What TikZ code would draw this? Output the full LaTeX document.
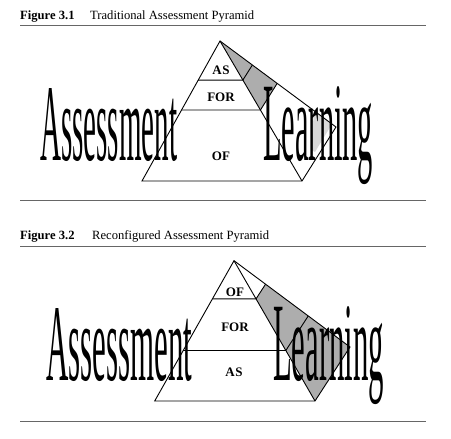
\documentclass[tikz,border=0pt]{standalone}
\usepackage{fontspec}
\setmainfont{Liberation Serif}
\usepackage{graphicx}
\usepackage{tikz}
\usetikzlibrary{calc}
\definecolor{mygray}{rgb}{0.68,0.68,0.68}
\definecolor{mylightgray}{rgb}{0.85,0.85,0.85}
\definecolor{myrule}{rgb}{0.4,0.4,0.4}

\tikzset{
	caption/.style={anchor=base west,inner sep=0,font=\fontsize{12.6}{14}\selectfont},
	level/.style={inner sep=0,font=\fontsize{13}{14}\selectfont\bfseries},
	bigword/.style={anchor=base west,inner sep=0},
	edge/.style={line width=0.9pt,line join=miter},
	rule/.style={myrule,line width=0.8pt}
}

\begin{document}
\begin{tikzpicture}[x=1pt,y=-1pt]
			\useasboundingbox (0,0) rectangle (451,439);

			% Figure 3.1: captions and rules
			\node[caption] (fig1) at (20,19.5) {\textbf{Figure 3.1}};
			\node[caption] (title1) at (90,19.5) {Traditional Assessment Pyramid};
			\coordinate (ruleA) at (20,25.5);
			\coordinate (ruleB) at (426,25.5);
			\coordinate (ruleC) at (20,200);
			\coordinate (ruleD) at (426,200);
			\draw[rule] (ruleA) -- (ruleB);
			\draw[rule] (ruleC) -- (ruleD);

			% Corners of the first pyramid
			\coordinate (top1) at (220,41);
			\coordinate (bl1) at (142,181);
			\coordinate (br1) at (302,181);
			\coordinate (sr1) at (336,127);
			\coordinate (asl1) at ($(top1)!0.279!(bl1)$);
			\coordinate (asr1) at ($(top1)!0.279!(br1)$);
			\coordinate (ass1) at ($(top1)!0.279!(sr1)$);
			\coordinate (forl1) at ($(top1)!0.493!(bl1)$);
			\coordinate (forr1) at ($(top1)!0.493!(br1)$);
			\coordinate (fors1) at ($(top1)!0.493!(sr1)$);

			% Shade the side parts
			\fill[mygray] (top1) -- (forr1) -- (fors1) -- cycle;
			\fill[mylightgray] (314,111) -- (332,124) -- (315,152) -- (311,150) -- cycle;

			% Big words
			\node[bigword] (assess1) at (40,160) {\resizebox{137pt}{72pt}{Assessment}};
			\node[bigword] (learn1) at (263,160) {\resizebox{110pt}{74pt}{Learning}};

			% Draw the pyramid
			\draw[edge] (top1) -- (bl1) -- (br1) -- (sr1) -- cycle;
			\draw[edge] (top1) -- (br1);
			\draw[edge] (asl1) -- (asr1) -- (ass1);
			\draw[edge] (forl1) -- (forr1) -- (fors1);
			\node[level] (as1) at (221,70) {A\kern0.8pt S};
			\node[level] (for1) at (221,97) {FOR};
			\node[level] (of1) at (221,156) {OF};

			% Figure 3.2: captions and rules
			\node[caption] (fig2) at (20,239.5) {\textbf{Figure 3.2}};
			\node[caption] (title2) at (92,239.5) {Reconfigured Assessment Pyramid};
			\coordinate (ruleE) at (20,246.5);
			\coordinate (ruleF) at (426,246.5);
			\coordinate (ruleG) at (20,421.5);
			\coordinate (ruleH) at (426,421.5);
			\draw[rule] (ruleE) -- (ruleF);
			\draw[rule] (ruleG) -- (ruleH);

			% Corners of the second pyramid
			\coordinate (top2) at (234,260.7);
			\coordinate (bl2) at (154.7,401);
			\coordinate (br2) at (315,401);
			\coordinate (sr2) at (350,347);
			\coordinate (ofl2) at ($(top2)!0.272!(bl2)$);
			\coordinate (ofr2) at ($(top2)!0.272!(br2)$);
			\coordinate (ofs2) at ($(top2)!0.272!(sr2)$);
			\coordinate (forl2) at ($(top2)!0.64!(bl2)$);
			\coordinate (forr2) at ($(top2)!0.64!(br2)$);
			\coordinate (fors2) at ($(top2)!0.64!(sr2)$);

			% Shade the side parts
			\fill[mygray] (ofr2) -- (ofs2) -- (sr2) -- (br2) -- cycle;

			% Big words
			\node[bigword] (assess2) at (46,380) {\resizebox{146pt}{72pt}{Assessment}};
			\node[bigword] (learn2) at (273,380) {\resizebox{111pt}{74pt}{Learning}};

			% Draw the pyramid
			\draw[edge] (top2) -- (bl2) -- (br2) -- (sr2) -- cycle;
			\draw[edge] (top2) -- (br2);
			\draw[edge] (ofl2) -- (ofr2) -- (ofs2);
			\draw[edge] (forl2) -- (forr2) -- (fors2);
			\node[level] (of2) at (235,292) {OF};
			\node[level] (for2) at (235,327) {FOR};
			\node[level] (as2) at (234,372) {A\kern0.8pt S};
		\end{tikzpicture}
\end{document}
